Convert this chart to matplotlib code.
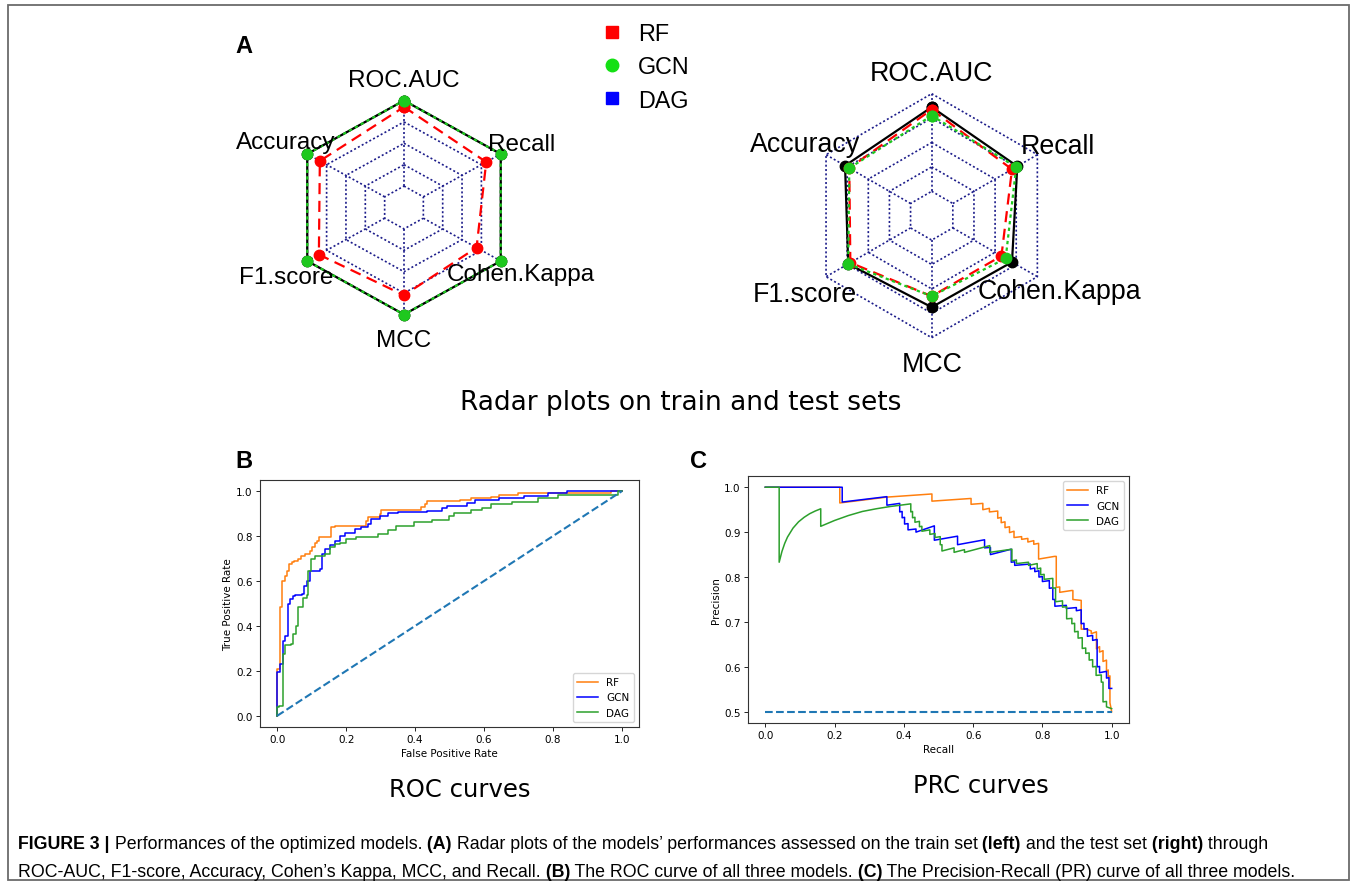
import numpy as np
import matplotlib
matplotlib.use("Agg")
import matplotlib.pyplot as plt
from matplotlib.lines import Line2D
from matplotlib.patches import Rectangle

# ---------------- data ----------------
metrics = ["ROC.AUC", "Recall", "Cohen.Kappa", "MCC", "F1.score", "Accuracy"]
models = ["RF", "GCN", "DAG"]

# radar values, as fraction of the outer grid ring
train_rf = [0.94, 0.85, 0.75, 0.82, 0.88, 0.87]
train_gcn = [1.0, 1.0, 1.0, 1.0, 1.0, 1.0]
train_dag = [1.0, 1.0, 1.0, 1.0, 1.0, 1.0]
test_rf = [0.87, 0.76, 0.66, 0.66, 0.77, 0.78]
test_gcn = [0.82, 0.80, 0.70, 0.66, 0.79, 0.78]
test_dag = [0.89, 0.81, 0.76, 0.75, 0.79, 0.82]
grid_levels = [0.2, 0.4, 0.6, 0.8, 1.0]

# ROC curves: (fpr, tpr reached at that fpr)
roc_rf = [(0, 0), (0, 0.21), (0.009, 0.486), (0.015, 0.60), (0.023, 0.624), (0.028, 0.646),
          (0.033, 0.676), (0.042, 0.685), (0.05, 0.69), (0.06, 0.70), (0.07, 0.71), (0.081, 0.72),
          (0.095, 0.735), (0.101, 0.75), (0.109, 0.77), (0.116, 0.78), (0.122, 0.794),
          (0.156, 0.841), (0.167, 0.846), (0.258, 0.868), (0.263, 0.886), (0.297, 0.90),
          (0.302, 0.916), (0.417, 0.93), (0.43, 0.942), (0.436, 0.956), (0.53, 0.96),
          (0.561, 0.97), (0.619, 0.975), (0.643, 0.984), (0.70, 0.99), (0.97, 1.0), (1.0, 1.0)]
roc_gcn = [(0, 0), (0, 0.195), (0.009, 0.23), (0.016, 0.332), (0.023, 0.357), (0.031, 0.50),
           (0.037, 0.52), (0.046, 0.532), (0.052, 0.536), (0.072, 0.543), (0.077, 0.58),
           (0.085, 0.60), (0.095, 0.646), (0.124, 0.653), (0.129, 0.72), (0.138, 0.742),
           (0.152, 0.76), (0.167, 0.779), (0.181, 0.80), (0.196, 0.816), (0.225, 0.83),
           (0.244, 0.84), (0.263, 0.853), (0.272, 0.878), (0.297, 0.89), (0.321, 0.902),
           (0.35, 0.907), (0.436, 0.91), (0.479, 0.925), (0.494, 0.935), (0.551, 0.948),
           (0.575, 0.96), (0.643, 0.968), (0.715, 0.98), (0.786, 0.99), (0.84, 1.0), (1.0, 1.0)]
roc_dag = [(0, 0), (0, 0.04), (0.005, 0.045), (0.016, 0.276), (0.023, 0.316), (0.04, 0.32),
           (0.047, 0.365), (0.055, 0.40), (0.061, 0.484), (0.076, 0.524), (0.085, 0.54),
           (0.089, 0.646), (0.098, 0.70), (0.11, 0.713), (0.138, 0.72), (0.152, 0.75),
           (0.167, 0.764), (0.181, 0.771), (0.2, 0.786), (0.23, 0.794), (0.292, 0.809),
           (0.321, 0.827), (0.345, 0.846), (0.398, 0.864), (0.45, 0.871), (0.498, 0.89),
           (0.513, 0.905), (0.561, 0.915), (0.594, 0.927), (0.619, 0.945), (0.681, 0.954),
           (0.758, 0.968), (0.815, 0.984), (0.99, 1.0), (1.0, 1.0)]

# PR curves: (recall, precision) vertices
prc_rf = [(0.0, 1.0), (0.215, 1.0), (0.215, 0.965), (0.351, 0.978), (0.481, 0.985), (0.481, 0.969),
          (0.594, 0.975), (0.594, 0.962), (0.628, 0.964), (0.628, 0.950), (0.647, 0.953),
          (0.647, 0.945), (0.671, 0.947), (0.671, 0.931), (0.681, 0.933), (0.681, 0.921),
          (0.692, 0.923), (0.692, 0.910), (0.705, 0.912), (0.705, 0.899), (0.718, 0.902),
          (0.718, 0.888), (0.740, 0.890), (0.740, 0.884), (0.758, 0.886), (0.758, 0.878),
          (0.775, 0.881), (0.775, 0.873), (0.789, 0.875), (0.789, 0.840), (0.835, 0.846),
          (0.840, 0.846), (0.840, 0.777), (0.850, 0.778), (0.850, 0.766), (0.884, 0.770),
          (0.888, 0.770), (0.888, 0.750), (0.912, 0.748), (0.912, 0.684), (0.927, 0.684),
          (0.941, 0.680), (0.941, 0.674), (0.956, 0.678), (0.956, 0.640), (0.965, 0.645),
          (0.965, 0.633), (0.975, 0.636), (0.975, 0.612), (0.985, 0.615), (0.985, 0.590),
          (0.990, 0.593), (0.990, 0.578), (0.995, 0.580), (0.995, 0.520), (1.0, 0.500)]
prc_gcn = [(0, 1.0), (0.222, 1.0), (0.222, 0.967), (0.351, 0.979), (0.351, 0.960), (0.388, 0.964),
           (0.388, 0.945), (0.395, 0.946), (0.395, 0.932), (0.402, 0.933), (0.402, 0.918),
           (0.412, 0.919), (0.412, 0.905), (0.435, 0.907), (0.435, 0.900), (0.488, 0.914),
           (0.488, 0.882), (0.555, 0.891), (0.555, 0.872), (0.633, 0.883), (0.633, 0.865),
           (0.650, 0.866), (0.650, 0.850), (0.710, 0.862), (0.710, 0.833), (0.720, 0.834),
           (0.720, 0.826), (0.765, 0.829), (0.765, 0.818), (0.778, 0.820), (0.778, 0.812),
           (0.790, 0.814), (0.790, 0.800), (0.800, 0.801), (0.800, 0.790), (0.820, 0.792),
           (0.820, 0.775), (0.830, 0.776), (0.830, 0.750), (0.836, 0.750), (0.836, 0.735),
           (0.869, 0.737), (0.869, 0.730), (0.898, 0.732), (0.898, 0.725), (0.912, 0.727),
           (0.912, 0.696), (0.920, 0.697), (0.920, 0.684), (0.930, 0.685), (0.930, 0.668),
           (0.945, 0.670), (0.945, 0.659), (0.958, 0.661), (0.958, 0.600), (0.965, 0.601),
           (0.965, 0.587), (0.985, 0.590), (0.985, 0.575), (0.992, 0.576), (0.992, 0.552),
           (1.0, 0.552)]
prc_dag = [(0, 1.0), (0.04, 1.0), (0.04, 0.833), (0.048, 0.857), (0.056, 0.875), (0.064, 0.889),
           (0.08, 0.909), (0.096, 0.923), (0.112, 0.933), (0.128, 0.941), (0.144, 0.947),
           (0.16, 0.952), (0.16, 0.913), (0.2, 0.926), (0.24, 0.937), (0.28, 0.946), (0.32, 0.952),
           (0.36, 0.957), (0.42, 0.963), (0.42, 0.945), (0.425, 0.946), (0.425, 0.932),
           (0.432, 0.933), (0.432, 0.922), (0.445, 0.924), (0.445, 0.912), (0.452, 0.913),
           (0.452, 0.902), (0.475, 0.905), (0.475, 0.895), (0.49, 0.897), (0.49, 0.888),
           (0.505, 0.890), (0.505, 0.872), (0.51, 0.872), (0.51, 0.858), (0.545, 0.865),
           (0.545, 0.855), (0.575, 0.861), (0.575, 0.855), (0.648, 0.870), (0.648, 0.855),
           (0.712, 0.862), (0.712, 0.836), (0.725, 0.838), (0.725, 0.830), (0.76, 0.833),
           (0.76, 0.826), (0.785, 0.830), (0.785, 0.818), (0.795, 0.820), (0.795, 0.805),
           (0.805, 0.806), (0.805, 0.795), (0.83, 0.797), (0.83, 0.775), (0.838, 0.776),
           (0.838, 0.745), (0.858, 0.747), (0.858, 0.733), (0.87, 0.734), (0.87, 0.707),
           (0.885, 0.708), (0.885, 0.696), (0.893, 0.697), (0.893, 0.678), (0.903, 0.679),
           (0.903, 0.664), (0.915, 0.665), (0.915, 0.641), (0.925, 0.642), (0.925, 0.63),
           (0.935, 0.631), (0.935, 0.615), (0.945, 0.616), (0.945, 0.6), (0.955, 0.601),
           (0.955, 0.581), (0.97, 0.582), (0.97, 0.566), (0.975, 0.566), (0.975, 0.522),
           (0.985, 0.523), (0.985, 0.511), (1.0, 0.507)]

caption_line1 = [("FIGURE 3 |", True), (" Performances of the optimized models.", False), (" (A)", True),
                 (" Radar plots of the models\u2019 performances assessed on the train set", False),
                 (" (left)", True), (" and the test set", False), (" (right)", True), (" through", False)]
caption_line2 = [("ROC-AUC, F1-score, Accuracy, Cohen\u2019s Kappa, MCC, and Recall.", False), (" (B)", True),
                 (" The ROC curve of all three models.", False), (" (C)", True),
                 (" The Precision-Recall (PR) curve of all three models.", False)]

# ---------------- figure ----------------
W, H = 1356, 887
fig = plt.figure(figsize=(W / 100, H / 100), dpi=100)
SANS = "Liberation Sans"
NAVY = "#1c1c8a"
GREEN = "#1ec81e"
ORANGE, BLUE, DGREEN, DASH = "#ff7f0e", "blue", "#2ca02c", "#1f77b4"


def px_axes(l, t, r, b):
    return fig.add_axes([l / W, 1 - b / H, (r - l) / W, (b - t) / H])


def fx(x):
    return x / W


def fy(y):
    return 1 - y / H


fig.patches.append(Rectangle((fx(8), fy(881)), fx(1349) - fx(8), fy(6) - fy(881),
                             transform=fig.transFigure, fill=False, ec="#6b6b6b", lw=1.3))

angles = np.deg2rad([90, 30, -30, -90, -150, 150])


def radar(ax, series):
    ring = np.append(angles, angles[0])
    for lev in grid_levels:
        ax.plot(lev * np.cos(ring), lev * np.sin(ring), ls=(0, (1.2, 1.4)), color=NAVY, lw=1.2)
    for a in angles:
        ax.plot([grid_levels[0] * np.cos(a), grid_levels[-1] * np.cos(a)],
                [grid_levels[0] * np.sin(a), grid_levels[-1] * np.sin(a)],
                ls=(0, (1.2, 1.4)), color=NAVY, lw=1.2)
    for vals, ls, col in series:
        v = np.append(vals, vals[0])
        ax.plot(v * np.cos(ring), v * np.sin(ring), ls=ls, color=col, lw=1.6,
                marker="o", ms=7.5, mec=col, mfc=col)
    ax.set_axis_off()


# left radar (train)
axl = px_axes(404 - 150, 208.5 - 150, 404 + 150, 208.5 + 150)
radar(axl, [(train_dag, "-", "black"), (train_rf, (0, (5, 3)), "red"), (train_gcn, (0, (1.5, 1.5)), GREEN)])
axl.set_xlim(-150 / 111.7, 150 / 111.7)
axl.set_ylim(-150 / 107, 150 / 107)

# right radar (test)
axr = px_axes(931.7 - 150, 216.7 - 150, 931.7 + 150, 216.7 + 150)
radar(axr, [(test_dag, "-", "black"), (test_rf, (0, (5, 3)), "red"), (test_gcn, (0, (1.5, 1.5)), GREEN)])
axr.set_xlim(-150 / 122, 150 / 122)
axr.set_ylim(-150 / 122, 150 / 122)

left_lab = [(403.7, 86.7), (521.5, 150.6), (521, 280.6), (403.5, 347.3), (286, 284), (286, 149)]
right_lab = [(931.7, 80.9), (1058, 154.2), (1059, 299.2), (931.7, 372.5), (805, 302.5), (805.5, 152.5)]
for name, (x, y) in zip(metrics, left_lab):
    fig.text(fx(x), fy(y), name, ha="center", va="baseline", family=SANS, fontsize=17.5)
for name, (x, y) in zip(metrics, right_lab):
    fig.text(fx(x), fy(y), name, ha="center", va="baseline", family=SANS, fontsize=19.3)

handles = [Line2D([], [], ls="", marker="s", ms=9, color="red"),
           Line2D([], [], ls="", marker="o", ms=9, color="#14e014"),
           Line2D([], [], ls="", marker="s", ms=9, color="blue")]
fig.legend(handles, models, loc="upper left", bbox_to_anchor=(fx(600), fy(23)), frameon=False,
           prop={"family": SANS, "size": 16.8}, handlelength=1.0, handletextpad=0.63,
           labelspacing=0.44, borderpad=0, borderaxespad=0)

fig.text(fx(235), fy(53.3), "A", family=SANS, fontweight="bold", fontsize=17)
fig.text(fx(235), fy(468.3), "B", family=SANS, fontweight="bold", fontsize=17)
fig.text(fx(690), fy(468.3), "C", family=SANS, fontweight="bold", fontsize=17)

fig.text(fx(680.5), fy(410), "Radar plots on train and test sets", ha="center", va="baseline", fontsize=19)
fig.text(fx(459.7), fy(796.7), "ROC curves", ha="center", va="baseline", fontsize=17.5)
fig.text(fx(981.3), fy(793.3), "PRC curves", ha="center", va="baseline", fontsize=17.5)

# ROC
ax1 = px_axes(260, 481, 639, 728)
for data, name, col in [(roc_rf, "RF", ORANGE), (roc_gcn, "GCN", BLUE), (roc_dag, "DAG", DGREEN)]:
    x, y = np.array(data).T
    ax1.plot(x, y, drawstyle="steps-post", color=col, lw=1.1, label=name)
ax1.plot([0, 1], [0, 1], ls="--", color=DASH, lw=1.5)
ax1.set_xlabel("False Positive Rate", fontsize=7.5, labelpad=2.5)
ax1.set_ylabel("True Positive Rate", fontsize=7.5, labelpad=2.5)
ax1.legend(loc="lower right", fontsize=7.5)

# PRC
ax2 = px_axes(748, 477, 1129, 724)
for data, name, col in [(prc_rf, "RF", ORANGE), (prc_gcn, "GCN", BLUE), (prc_dag, "DAG", DGREEN)]:
    x, y = np.array(data).T
    ax2.plot(x, y, color=col, lw=1.1, label=name)
ax2.plot([0, 1], [0.5, 0.5], ls="--", color=DASH, lw=1.5)
ax2.set_xlabel("Recall", fontsize=7.5, labelpad=2.5)
ax2.set_ylabel("Precision", fontsize=7.5, labelpad=2.5)
ax2.legend(loc="upper right", fontsize=7.5)

for ax in (ax1, ax2):
    ax.tick_params(labelsize=7.5, length=2.6, width=0.6, pad=2.6)
    for s in ax.spines.values():
        s.set_linewidth(0.8)
        s.set_color("#333333")


def rich_line(x, y, parts, size):
    prev = None
    for s, bold in parts:
        w = "bold" if bold else "normal"
        if prev is None:
            prev = fig.text(fx(x), fy(y), s, family=SANS, fontweight=w, fontsize=size, va="baseline")
        else:
            prev = fig.add_artist(plt.Annotation(s, xy=(1, 0), xycoords=prev, va="bottom",
                                                 family=SANS, fontweight=w, fontsize=size))


rich_line(18, 849, caption_line1, 12.8)
rich_line(18, 877, caption_line2, 12.8)

fig.savefig("out.png", dpi=100)
